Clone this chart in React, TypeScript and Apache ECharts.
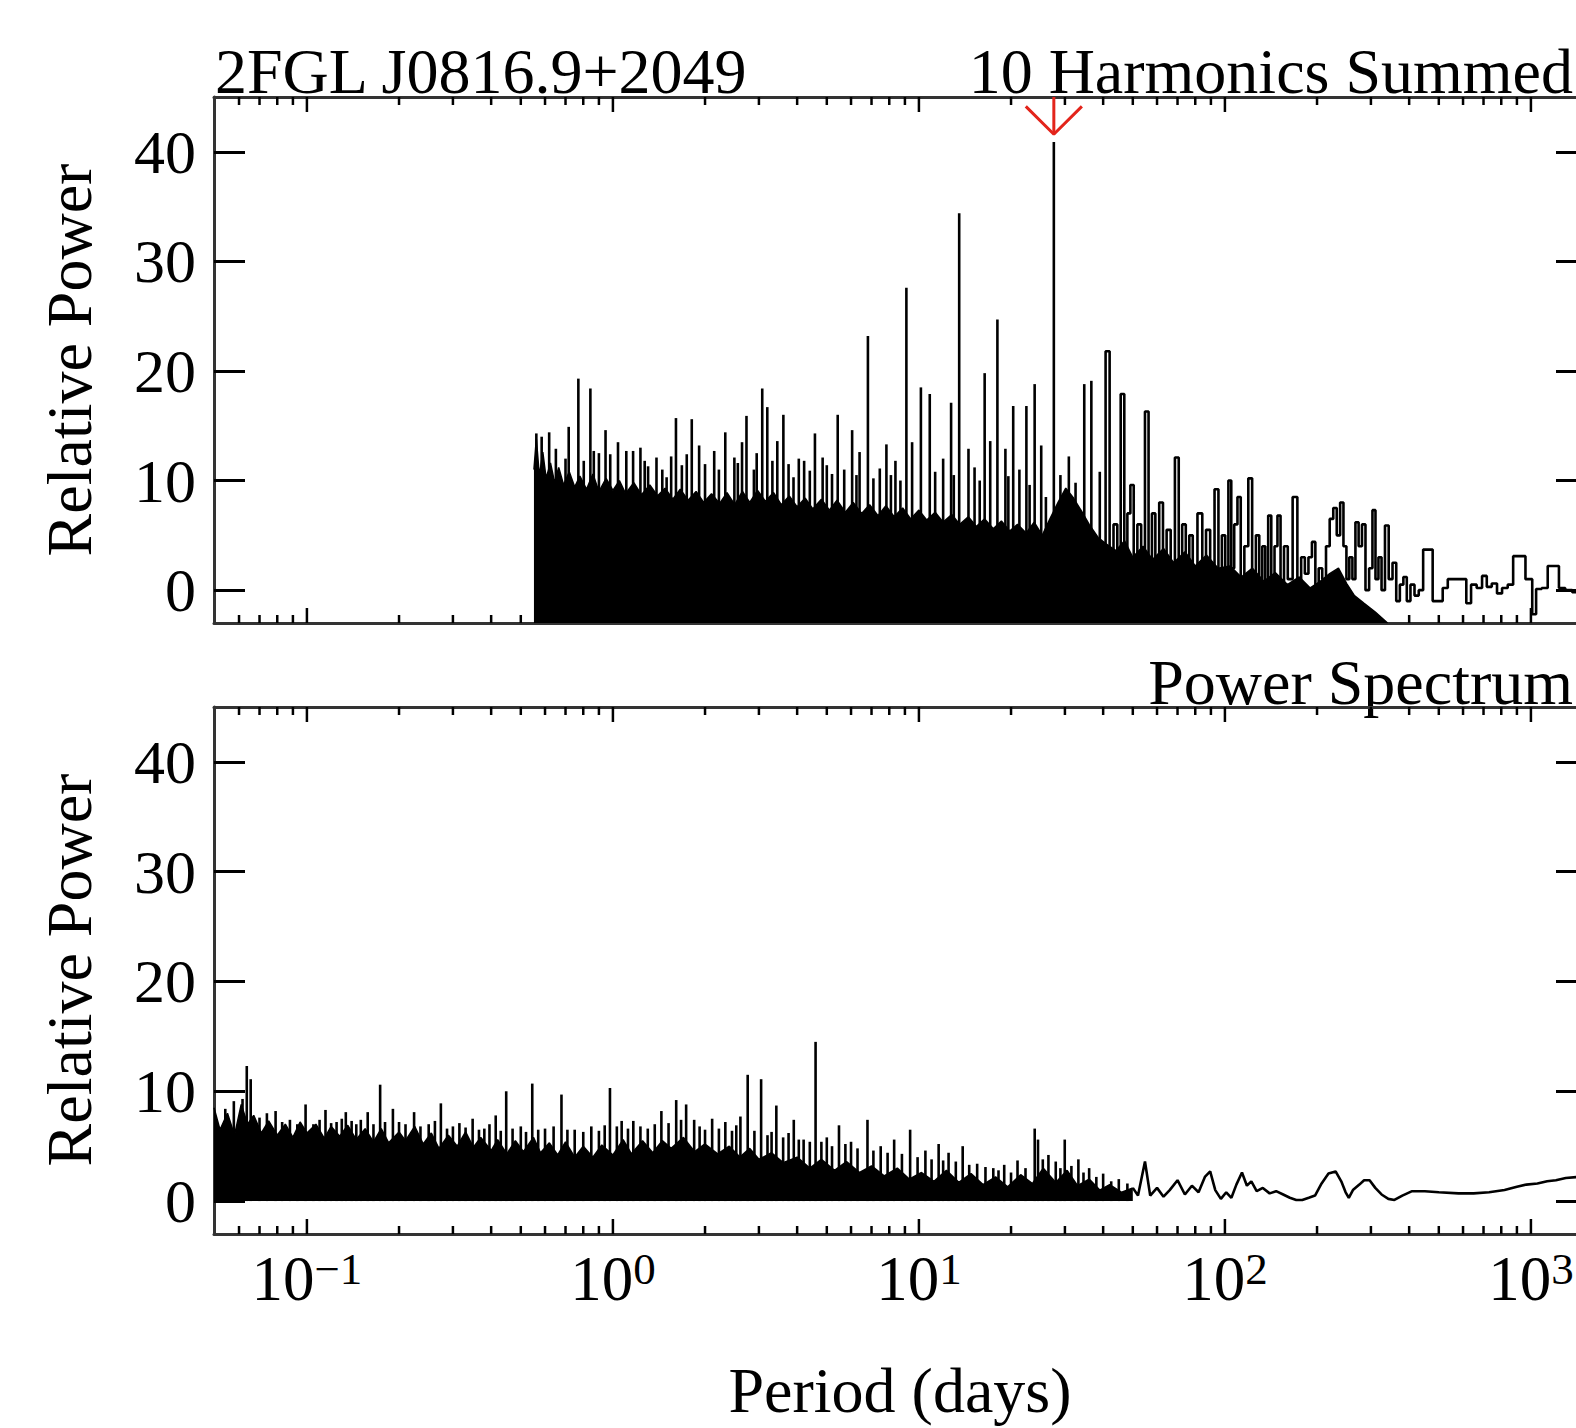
import React, { useEffect, useRef } from 'react';
import * as echarts from 'echarts';

// ---------- axis ranges & ticks ----------
const X_MIN = 0.0497;
const X_MAX = 1525;
const Y_MIN = -3;
const Y_MAX = 45;
const yTickValues = [0, 10, 20, 30, 40];
const xMajorTicks = [0.1, 1, 10, 100, 1000];
const xMinorTicks = [
  0.06, 0.07, 0.08, 0.09,
  0.2, 0.3, 0.4, 0.5, 0.6, 0.7, 0.8, 0.9,
  2, 3, 4, 5, 6, 7, 8, 9,
  20, 30, 40, 50, 60, 70, 80, 90,
  200, 300, 400, 500, 600, 700, 800, 900,
];

// ---------- texts ----------
const sourceName = '2FGL J0816.9+2049';
const topTitle = '10 Harmonics Summed';
const bottomTitle = 'Power Spectrum';
const yName = 'Relative Power';
const xName = 'Period (days)';

// ---------- top panel: 10 harmonics summed ----------
// [period (days), relative power] - upper edge of the dense forest of lines
const topBody: [number, number][] = [
  [0.552, 11.0], [0.562, 13.8], [0.575, 10.4], [0.59, 12.6], [0.605, 10.2], [0.625, 11.6], [0.645, 9.8],
  [0.665, 11.2], [0.69, 9.6], [0.72, 10.8], [0.75, 9.4], [0.78, 10.4], [0.82, 9.2], [0.86, 10.6], [0.9, 9.0],
  [0.95, 10.2], [1.0, 9.1], [1.05, 10.0], [1.1, 8.8], [1.17, 9.8], [1.24, 8.7], [1.32, 9.6], [1.4, 8.6],
  [1.48, 9.3], [1.57, 8.3], [1.66, 9.2], [1.76, 8.2], [1.87, 9.0], [1.98, 8.0], [2.1, 8.8], [2.23, 7.9],
  [2.36, 8.9], [2.5, 7.8], [2.65, 9.0], [2.8, 8.0], [2.97, 9.1], [3.15, 8.1], [3.35, 8.9], [3.55, 7.8],
  [3.77, 8.6], [4.0, 7.6], [4.25, 8.4], [4.5, 7.4], [4.8, 8.3], [5.1, 7.3], [5.4, 8.2], [5.75, 7.1],
  [6.1, 8.0], [6.5, 7.0], [6.9, 7.8], [7.35, 6.8], [7.8, 7.7], [8.3, 6.7], [8.85, 7.5], [9.4, 6.5],
  [10.0, 7.3], [10.6, 6.4], [11.3, 7.1], [12.0, 6.2], [12.8, 6.9], [13.6, 6.0], [14.5, 6.7], [15.4, 5.8],
  [16.4, 6.5], [17.5, 5.6], [18.6, 6.3], [19.8, 5.4], [21.0, 6.0], [22.4, 5.2], [23.8, 6.2], [25.3, 5.0],
  [26.8, 6.5], [28.5, 8.0], [30.2, 9.3], [32.0, 8.4], [34.0, 7.2], [36.0, 6.0], [38.5, 4.8], [41.0, 4.2],
  [44.0, 3.6], [47.0, 4.5], [50.0, 3.0], [54, 4.0], [58, 2.8], [63, 3.8], [68, 2.5], [74, 3.5], [80, 2.2],
  [87, 3.2], [95, 2.0], [104, 2.2], [113, 1.2], [123, 2.0], [134, 0.8], [146, 1.6], [160, 0.5],
  [175, 1.2], [190, 0.2], [205, 0.8], [220, 1.5], [235, 2.0], [250, 0.6], [265, -0.5], [285, -1.2],
  [310, -2], [340, -3],
];

// individual lines rising above the forest
const topSpikes: [number, number][] = [
  [0.562, 14.3], [0.585, 14.0], [0.619, 14.4], [0.651, 12.9], [0.7, 12.0], [0.717, 14.9], [0.771, 19.3],
  [0.803, 11.8], [0.844, 18.4], [0.866, 12.7], [0.9, 12.5], [0.946, 14.6], [0.98, 12.4], [1.039, 13.5],
  [1.106, 12.7], [1.164, 12.7], [1.23, 13.0], [1.27, 11.8], [1.303, 11.3], [1.388, 12.1], [1.45, 11.0],
  [1.498, 10.3], [1.55, 12.2], [1.607, 15.7], [1.68, 11.4], [1.743, 12.4], [1.81, 15.6], [1.913, 13.2],
  [2.0, 11.5], [2.143, 12.7], [2.22, 11.0], [2.329, 14.4], [2.494, 12.1], [2.56, 11.6], [2.642, 13.5],
  [2.732, 15.9], [2.889, 11.0], [2.95, 12.5], [3.076, 18.4], [3.195, 16.7], [3.32, 11.8], [3.445, 13.6],
  [3.606, 16.0], [3.75, 11.5], [3.892, 10.3], [4.05, 12.0], [4.216, 11.8], [4.4, 10.9], [4.573, 14.3],
  [4.846, 12.1], [5.0, 11.4], [5.2, 10.6], [5.428, 16.0], [5.7, 11.0], [6.05, 14.6], [6.25, 10.5],
  [6.398, 12.6], [6.813, 23.2], [7.1, 10.2], [7.45, 11.1], [7.83, 13.3], [8.1, 10.5], [8.38, 11.8],
  [8.7, 10.0], [9.1, 27.6], [9.5, 13.5], [10.15, 18.5], [10.85, 17.9], [11.3, 10.8], [12.0, 12.0],
  [12.74, 17.1], [13.0, 10.5], [13.54, 34.4], [14.52, 12.9], [15.2, 11.2], [15.8, 10.0], [16.4, 19.8],
  [17.1, 13.6], [18.05, 24.7], [19.17, 12.9], [19.6, 10.4], [20.33, 16.8], [21.3, 11.0], [22.45, 16.8],
  [23.0, 9.6], [23.89, 18.8], [25.1, 13.2], [26.0, 8.5], [27.6, 40.9], [29.0, 10.5], [30.9, 12.2],
  [32.5, 9.8], [34.7, 18.8], [36.6, 19.1], [39.0, 10.8],
];

// histogram-like tail at long periods
const topTail: [number, number][] = [
  [40, -2], [41.5, 21.8], [42.5, 1], [44, 6], [45, -1], [46.3, 17.9], [47.5, 3], [48.5, 7], [49.7, 9.6],
  [51, 1], [52.5, 6], [54, -2], [55.6, 16.3], [57, 2], [58.5, 7], [60, 0], [62, 8.0], [63.5, 1], [65.5, 5.5],
  [67.5, -1], [69.8, 12.1], [71.5, 2], [73.5, 6], [75.5, -2], [77.5, 5], [79.5, 1], [83.2, 7.0], [85.5, 0],
  [88, 5.5], [91, 1], [94, 9.2], [96.5, 0], [99, 5], [101.5, -1], [103.8, 10.0], [106, 2], [108.5, 6],
  [111.3, 8.5], [114, 0], [117.5, 4], [121, 10.2], [124.5, 1], [128, 5], [131, 0], [134, 4], [137, -1],
  [140, 6.8], [143.5, 1], [147, 4], [150, 6.8], [154, 0], [158, 4], [163, 1], [170, 8.5], [175, 0],
  [180, 3], [185, 1.5], [190, 3], [195, 4.4], [200, 0.5], [205, 2], [211, 1], [217, 4], [223, 6.5],
  [229, 7.5], [235, 5], [241, 8], [247, 4], [252, 1], [258, 3], [264, 1], [270, 6.2], [277, 4], [284, 6],
  [292, 0], [300, 2], [307, 7.3], [314, 1], [321, 3], [329, 0], [338, 5.9], [348, 1], [358, 2.5], [368, -1],
  [378, 0.5], [388, 1.2], [398, -1], [410, 0.5], [423, -0.5], [437, 0], [452, 3.7], [470, 3.7], [485, -1],
  [505, -1], [525, 0.2], [545, 1.0], [575, 1.0], [605, 1.0], [625, -1.2], [650, 0.5], [680, 0.2],
  [705, 1.3], [730, 0.3], [760, 0.6], [790, -0.3], [820, 0.2], [860, 0.5], [890, 3.1], [940, 3.1],
  [980, 1.0], [1000, 1.0], [1020, -2.2], [1060, 0.1], [1110, 0.2], [1160, 2.2], [1210, 2.2], [1260, 0.2],
  [1330, 0.0], [1400, -0.2], [1460, 0.2], [1525, 0.1],
];

// strongest peak, marked by the red arrow
const peakPeriod = 27.6;
const arrowTip = 41.6;
const arrowWingTop = 44.15;
const arrowWingRatio = 1.235;

// ---------- bottom panel: power spectrum ----------
const bottomBody: [number, number][] = [
  [0.0497, 8.5], [0.052, 6.5], [0.055, 8.0], [0.058, 6.0], [0.061, 8.8], [0.064, 7.0], [0.067, 7.8],
  [0.071, 6.2], [0.075, 7.3], [0.08, 6.0], [0.085, 7.0], [0.09, 5.8], [0.095, 7.2], [0.1, 6.2],
  [0.107, 7.0], [0.114, 5.7], [0.12, 6.8], [0.128, 5.9], [0.136, 6.9], [0.145, 5.6], [0.155, 6.6],
  [0.165, 5.4], [0.175, 6.6], [0.185, 5.3], [0.2, 6.3], [0.21, 5.5], [0.225, 6.8], [0.24, 5.2],
  [0.255, 6.2], [0.27, 4.8], [0.29, 6.0], [0.31, 5.0], [0.33, 6.3], [0.35, 4.9], [0.37, 5.8], [0.4, 4.6],
  [0.42, 5.6], [0.45, 4.3], [0.48, 5.5], [0.51, 4.5], [0.55, 5.8], [0.58, 4.4], [0.62, 5.3], [0.66, 4.2],
  [0.7, 5.4], [0.75, 4.0], [0.8, 5.0], [0.86, 4.0], [0.92, 5.1], [1.0, 4.2], [1.08, 5.6], [1.15, 4.3],
  [1.25, 5.5], [1.35, 4.4], [1.45, 5.5], [1.55, 4.8], [1.7, 5.8], [1.85, 4.5], [2.0, 5.2], [2.2, 4.3],
  [2.4, 5.0], [2.6, 4.0], [2.8, 4.8], [3.0, 3.8], [3.3, 4.4], [3.6, 3.5], [4.0, 4.0], [4.4, 3.0],
  [4.8, 3.8], [5.3, 2.8], [5.8, 3.6], [6.4, 2.6], [7.0, 3.2], [7.7, 2.3], [8.5, 3.0], [9.3, 2.0],
  [10.2, 2.6], [11.2, 1.8], [12.3, 2.8], [13.5, 1.7], [14.8, 2.5], [16.2, 1.5], [17.8, 2.2], [19.5, 1.3],
  [21.5, 2.4], [23.5, 1.6], [25.5, 3.0], [28, 1.7], [30.5, 2.8], [33, 1.4], [36, 2.0], [39, 1.0],
  [42, 1.5], [46, 0.8], [50, 1.2],
];

const bottomSpikes: [number, number][] = [
  [0.0541, 8.4], [0.0577, 9.1], [0.0616, 9.3], [0.0636, 12.3], [0.0655, 11.1], [0.07, 7.6], [0.074, 8.0],
  [0.079, 8.2], [0.083, 7.2], [0.088, 7.4], [0.093, 7.0], [0.099, 8.8], [0.105, 7.0], [0.11, 7.4],
  [0.115, 8.3], [0.12, 7.1], [0.125, 7.2], [0.13, 7.5], [0.134, 8.1], [0.14, 7.3], [0.145, 7.0],
  [0.15, 7.4], [0.158, 8.1], [0.165, 7.0], [0.1735, 10.6], [0.18, 7.2], [0.191, 8.4], [0.2, 7.2],
  [0.21, 7.0], [0.224, 8.1], [0.235, 6.8], [0.25, 7.0], [0.262, 7.3], [0.274, 8.9], [0.287, 6.6],
  [0.3, 6.8], [0.315, 7.1], [0.33, 6.7], [0.348, 7.5], [0.365, 6.5], [0.38, 6.6], [0.395, 7.0],
  [0.414, 7.8], [0.43, 6.4], [0.448, 10.0], [0.47, 6.6], [0.5, 6.8], [0.52, 6.3], [0.545, 10.7],
  [0.57, 6.5], [0.6, 6.6], [0.64, 6.8], [0.679, 9.7], [0.71, 6.5], [0.75, 6.5], [0.8, 6.3], [0.85, 6.8],
  [0.9, 6.4], [0.94, 6.9], [0.978, 10.3], [1.03, 6.8], [1.068, 7.3], [1.12, 6.6], [1.166, 7.3],
  [1.23, 6.8], [1.3, 6.6], [1.37, 7.0], [1.44, 8.2], [1.52, 7.1], [1.61, 9.2], [1.67, 7.4], [1.735, 8.8],
  [1.843, 7.4], [1.92, 6.8], [2.0, 6.5], [2.11, 7.5], [2.22, 6.6], [2.33, 7.2], [2.45, 6.4], [2.53, 6.9],
  [2.61, 7.7], [2.757, 11.5], [2.9, 6.4], [3.05, 11.1], [3.2, 6.0], [3.3, 6.3], [3.42, 8.7], [3.6, 5.8],
  [3.75, 6.2], [3.9, 7.4], [4.05, 5.6], [4.2, 5.6], [4.4, 5.4], [4.595, 14.5], [4.8, 5.4], [5.0, 5.8],
  [5.2, 5.0], [5.48, 6.9], [5.75, 5.2], [6.0, 5.4], [6.3, 4.8], [6.79, 7.4], [7.1, 4.6], [7.5, 5.0],
  [7.9, 4.4], [8.3, 5.6], [8.8, 4.3], [9.36, 6.5], [9.9, 4.0], [10.5, 4.6], [11.0, 3.8], [11.6, 5.2],
  [12.0, 3.7], [12.5, 4.4], [13.2, 3.6], [13.9, 5.0], [14.6, 3.3], [15.5, 3.4], [16.5, 3.1], [17.5, 3.0],
  [18.2, 2.8], [19.0, 3.3], [20.0, 2.6], [21.0, 3.7], [22.3, 3.0], [23.9, 6.6], [24.5, 5.6], [25.4, 3.8],
  [26.5, 4.2], [28, 3.6], [29.0, 3.0], [29.96, 5.6], [31.5, 3.2], [33.2, 3.8], [34.5, 2.6], [36, 3.0],
  [38, 2.2], [40, 2.5], [42.5, 1.8], [45, 2.0], [48, 1.6],
];

const bottomTail: [number, number][] = [
  [50, 1.2], [52, 0.5], [54.8, 3.6], [57, 0.5], [60, 1.2], [63, 0.4], [66, 1.0], [70, 1.9], [74, 0.6],
  [78, 1.4], [82, 0.8], [86, 2.2], [89.5, 2.7], [93, 1.0], [97, 0.2], [101, 0.8], [105, 0.3], [109, 1.5],
  [113.7, 2.6], [118, 1.4], [122, 1.8], [127, 0.9], [133, 1.2], [140, 0.7], [147, 0.9], [155, 0.6],
  [163, 0.3], [171, 0.1], [179, 0.1], [188, 0.3], [197, 0.5], [207, 1.6], [218, 2.5], [230, 2.7],
  [240, 1.8], [248, 0.8], [254, 0.3], [262, 1.0], [275, 1.5], [285, 1.9], [297, 1.9], [310, 1.2],
  [325, 0.6], [342, 0.2], [358, 0.1], [380, 0.5], [409, 0.9], [450, 0.9], [500, 0.8], [580, 0.7],
  [650, 0.7], [730, 0.8], [820, 1.0], [900, 1.3], [966, 1.5], [1050, 1.6], [1130, 1.8], [1207, 1.9],
  [1300, 2.1], [1436, 2.2], [1525, 2.3],
];

// ---------- styling ----------
const FONT = "'Liberation Serif', 'Times New Roman', serif";
const FRAME = '#333333';

const tickData = [
  ...xMajorTicks.map((v) => [v, 1]),
  ...xMinorTicks.map((v) => [v, 0]),
];

function isDecade(v: number) {
  const e = Math.log10(v);
  return Math.abs(e - Math.round(e)) < 1e-6;
}

function xAxisDef(gridIndex: number, position: 'top' | 'bottom', labels: boolean) {
  return {
    type: 'log',
    logBase: 10,
    gridIndex,
    position,
    min: X_MIN,
    max: X_MAX,
    axisLine: { show: true, onZero: false, lineStyle: { color: FRAME, width: 3 } },
    axisTick: { show: false },
    minorTick: { show: false },
    splitLine: { show: false },
    minorSplitLine: { show: false },
    axisLabel: labels
      ? {
          show: true,
          margin: 12,
          showMinLabel: true,
          showMaxLabel: true,
          formatter: (v: number) => {
            if (!isDecade(v)) return '';
            const e = Math.round(Math.log10(v));
            return `{b|10}{s|${e < 0 ? '\u2212' + -e : e}}`;
          },
          rich: {
            b: { fontSize: 63, fontFamily: FONT, color: '#000', lineHeight: 64, verticalAlign: 'bottom' },
            s: { fontSize: 45, fontFamily: FONT, color: '#000', lineHeight: 28, verticalAlign: 'top' },
          },
        }
      : { show: false },
  };
}

function yAxisDef(gridIndex: number, position: 'left' | 'right', labels: boolean) {
  return {
    type: 'value',
    gridIndex,
    position,
    min: Y_MIN,
    max: Y_MAX,
    axisLine: { show: true, onZero: false, lineStyle: { color: FRAME, width: 3 } },
    axisTick: {
      show: true,
      inside: true,
      length: 31,
      customValues: yTickValues,
      lineStyle: { color: '#000', width: 3 },
    },
    splitLine: { show: false },
    axisLabel: labels
      ? {
          show: true,
          margin: 18,
          fontSize: 62,
          fontFamily: FONT,
          color: '#000',
          customValues: yTickValues,
          formatter: (v: number) => (yTickValues.indexOf(v) >= 0 ? String(v) : ''),
        }
      : { show: false },
  };
}

function spikeSeries(axisIndex: number, data: [number, number][], base: number) {
  return {
    type: 'custom',
    xAxisIndex: axisIndex,
    yAxisIndex: axisIndex,
    clip: true,
    silent: true,
    z: 3,
    data,
    renderItem: (_p: any, api: any) => {
      const p = api.value(0);
      const v = api.value(1);
      const a = api.coord([p, base]);
      const b = api.coord([p, v]);
      return {
        type: 'line',
        shape: { x1: a[0], y1: a[1], x2: b[0], y2: b[1] },
        style: { stroke: '#000', lineWidth: 2.6 },
      };
    },
  };
}

function tickSeries(axisIndex: number) {
  return {
    type: 'custom',
    xAxisIndex: axisIndex,
    yAxisIndex: axisIndex,
    silent: true,
    z: 10,
    data: tickData,
    renderItem: (_p: any, api: any) => {
      const x = api.value(0);
      const len = api.value(1) === 1 ? 15 : 8;
      const b = api.coord([x, Y_MIN]);
      const t = api.coord([x, Y_MAX]);
      return {
        type: 'group',
        children: [
          { type: 'line', shape: { x1: b[0], y1: b[1], x2: b[0], y2: b[1] - len }, style: { stroke: '#000', lineWidth: 2.5 } },
          { type: 'line', shape: { x1: t[0], y1: t[1], x2: t[0], y2: t[1] + len }, style: { stroke: '#000', lineWidth: 2.5 } },
        ],
      };
    },
  };
}

function bodySeries(axisIndex: number, data: [number, number][], origin: string) {
  return {
    type: 'line',
    xAxisIndex: axisIndex,
    yAxisIndex: axisIndex,
    data,
    symbol: 'none',
    silent: true,
    z: 2,
    lineStyle: { color: '#000', width: 1.5 },
    areaStyle: { color: '#000', opacity: 1, origin },
  };
}

function tailSeries(axisIndex: number, data: [number, number][], step: boolean) {
  return {
    type: 'line',
    xAxisIndex: axisIndex,
    yAxisIndex: axisIndex,
    data,
    step: step ? 'middle' : false,
    symbol: 'none',
    silent: true,
    z: 3,
    lineStyle: { color: '#000', width: 2.6 },
  };
}

const textStyle = (text: string, align: string) => ({
  text,
  fontSize: 64,
  fontFamily: FONT,
  fill: '#000',
  textAlign: align,
  textVerticalAlign: 'middle',
});

const option: any = {
  animation: false,
  backgroundColor: '#ffffff',
  grid: [
    { left: 214, top: 97, width: 1373, height: 526 },
    { left: 214, top: 707, width: 1373, height: 527 },
  ],
  xAxis: [
    xAxisDef(0, 'bottom', false),
    xAxisDef(0, 'top', false),
    xAxisDef(1, 'bottom', true),
    xAxisDef(1, 'top', false),
  ],
  yAxis: [
    yAxisDef(0, 'left', true),
    yAxisDef(0, 'right', false),
    yAxisDef(1, 'left', true),
    yAxisDef(1, 'right', false),
  ],
  series: [
    bodySeries(0, topBody, 'start'),
    spikeSeries(0, topSpikes, Y_MIN),
    tailSeries(0, topTail, true),
    {
      type: 'line',
      xAxisIndex: 0,
      yAxisIndex: 0,
      symbol: 'none',
      silent: true,
      z: 8,
      data: [[peakPeriod, Y_MAX], [peakPeriod, arrowTip]],
      lineStyle: { color: '#e3241b', width: 3 },
    },
    {
      type: 'line',
      xAxisIndex: 0,
      yAxisIndex: 0,
      symbol: 'none',
      silent: true,
      z: 8,
      data: [
        [peakPeriod / arrowWingRatio, arrowWingTop],
        [peakPeriod, arrowTip],
        [peakPeriod * arrowWingRatio, arrowWingTop],
      ],
      lineStyle: { color: '#e3241b', width: 3 },
    },
    tickSeries(0),
    bodySeries(2, bottomBody, 'auto'),
    spikeSeries(2, bottomSpikes, 0),
    tailSeries(2, bottomTail, false),
    tickSeries(2),
  ],
  graphic: [
    { type: 'text', x: 215, y: 71, style: textStyle(sourceName, 'left') },
    { type: 'text', x: 1573, y: 71, style: textStyle(topTitle, 'right') },
    { type: 'text', x: 1573, y: 682, style: textStyle(bottomTitle, 'right') },
    { type: 'text', x: 69, y: 360, rotation: Math.PI / 2, style: textStyle(yName, 'center') },
    { type: 'text', x: 69, y: 970, rotation: Math.PI / 2, style: textStyle(yName, 'center') },
    { type: 'text', x: 900, y: 1390, style: textStyle(xName, 'center') },
  ],
};

export default function App() {
  const ref = useRef<HTMLDivElement>(null);
  useEffect(() => {
    if (!ref.current) return;
    const chart = echarts.init(ref.current, null, { renderer: 'svg' });
    chart.setOption(option);
    return () => chart.dispose();
  }, []);
  return (
    <div
      style={{
        position: 'fixed',
        left: 0,
        top: 0,
        width: 1576,
        height: 1428,
        overflow: 'hidden',
        background: '#ffffff',
      }}
    >
      <div ref={ref} style={{ width: 1600, height: 1428 }} />
    </div>
  );
}
